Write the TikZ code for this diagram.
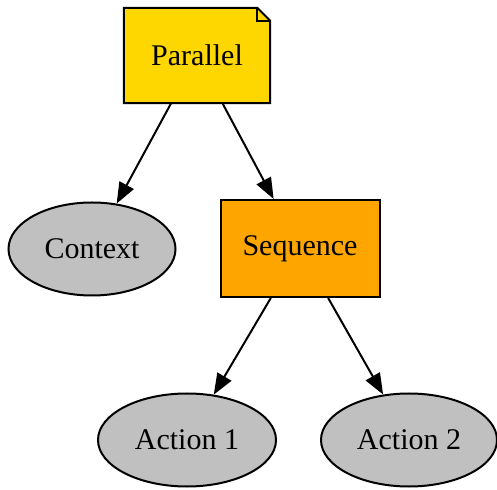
\documentclass[tikz,border=0pt]{standalone}
\usepackage{fontspec}
\setmainfont{Liberation Serif}
\usetikzlibrary{arrows.meta,shapes.geometric}
\definecolor{notegold}{HTML}{FFD700}
\definecolor{seqorange}{HTML}{FFA500}
\definecolor{leafgray}{HTML}{C0C0C0}
\newcommand{\foldsize}{13pt}

\begin{document}
\begin{tikzpicture}[x = 1pt, y = 1pt,
    every node/.style = {font = \fontsize{30}{35}\selectfont},
    notebox/.style = {minimum width = 146pt, minimum height = 95pt},
    seqbox/.style = {draw, line width = 2pt, fill = seqorange,
      minimum width = 159pt, minimum height = 97pt},
    leaf/.style = {ellipse, draw, line width = 2pt, fill = leafgray,
      minimum width = #1, minimum height = 93pt},
    edge/.style = {draw, line width = 2pt,
      -{Triangle[length = 21pt, width = 16pt]}},
  ]
  \useasboundingbox (0,0) rectangle (497,489);
  % parallel note with folded corner
  \node (Parallel) [notebox] at (197,433.5) {};
  \draw [line width = 2pt, fill = notegold, line join = miter]
    (Parallel.south west) -- (Parallel.south east)
    -- ([yshift = -\foldsize]Parallel.north east)
    -- ([xshift = -\foldsize]Parallel.north east)
    -- (Parallel.north west) -- cycle;
  \draw [line width = 2pt, line join = miter]
    ([xshift = -\foldsize]Parallel.north east)
    -- ([xshift = -\foldsize, yshift = -\foldsize]Parallel.north east)
    -- ([yshift = -\foldsize]Parallel.north east);
  \node at (Parallel) {Parallel};
  % children
  \node (Context) [leaf = 167pt] at (92,240) {Context};
  \node (Sequence) [seqbox] at (300,240.5) {Sequence};
  \node (Action1) [leaf = 178pt] at (187,49) {Action 1};
  \node (Action2) [leaf = 176pt] at (409,49) {Action 2};
  % edges
  \path [edge] (Parallel) -- (Context);
  \path [edge] (Parallel) -- (Sequence);
  \path [edge] (Sequence) -- (Action1);
  \path [edge] (Sequence) -- (Action2);
\end{tikzpicture}
\end{document}
